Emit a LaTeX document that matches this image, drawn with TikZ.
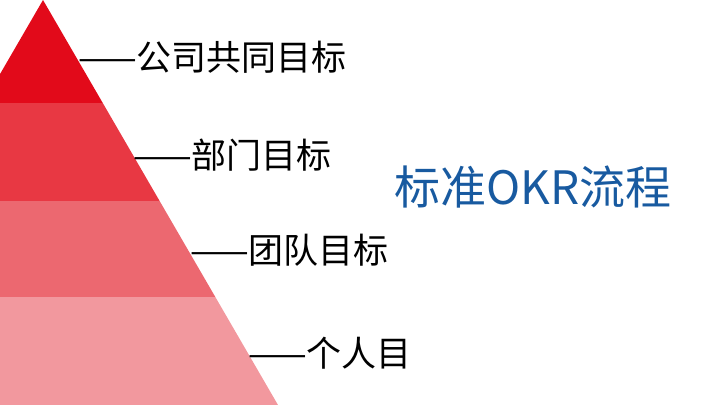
\documentclass[tikz,border=0pt]{standalone}
\usepackage{fontspec}
\setmainfont{Noto Sans CJK SC}
\definecolor{level1}{RGB}{226,10,26}
\definecolor{level2}{RGB}{232,56,67}
\definecolor{level3}{RGB}{236,104,112}
\definecolor{level4}{RGB}{242,152,158}
\definecolor{titleblue}{RGB}{24,90,160}
\tikzset{
  goal/.style={anchor=west, inner sep=0pt, font=\fontsize{35}{40}\selectfont},
}
\begin{document}
\begin{tikzpicture}[x=1pt,y=-1pt]
      \useasboundingbox (0,0) rectangle (720,405);
      \begin{scope}
        \clip (0,0) rectangle (720,405);
        \clip (43,0) -- (278,405) -- (-192,405) -- cycle;
        \fill[level1] (-200,0) rectangle (300,103);
        \fill[level2] (-200,103) rectangle (300,201);
        \fill[level3] (-200,201) rectangle (300,297);
        \fill[level4] (-200,297) rectangle (300,405);
      \end{scope}
      \draw
        (78,57) node[goal] (company){——公司共同目标}
        (133,155) node[goal] (dept){——部门目标}
        (190,250) node[goal] (team){——团队目标}
        (248,353) node[goal] (person){——个人目};
      \node[anchor=west, inner sep=0pt, text=titleblue,
        font=\fontsize{46}{52}\selectfont] (title) at (394,187) {标准OKR流程};
    \end{tikzpicture}
\end{document}
